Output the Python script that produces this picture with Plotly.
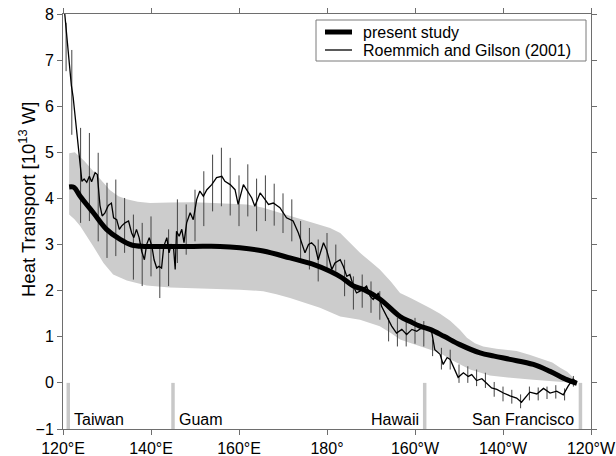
import plotly.graph_objects as go

# ---------------- data ----------------
# Present study (thick line): longitude in degrees east, heat transport [1e13 W]
study_lon = [121.4, 122.5, 123.9, 126.9, 129.9, 133.0, 135.6, 138.5, 142.0, 149.6, 155.7,
             160.2, 165.5, 171.6, 176.9, 180.7, 183.4, 186.0, 188.4, 192.0, 196.6, 198.9,
             201.1, 203.4, 206.6, 210.2, 214.8, 218.0, 221.6, 226.9, 230.7, 234.5, 236.8]
study_val = [4.25, 4.24, 4.05, 3.69, 3.33, 3.11, 2.99, 2.96, 2.96, 2.96, 2.96,
             2.93, 2.86, 2.71, 2.57, 2.42, 2.28, 2.10, 2.02, 1.82, 1.44, 1.33,
             1.23, 1.16, 1.01, 0.83, 0.65, 0.58, 0.51, 0.40, 0.25, 0.07, -0.01]

# Uncertainty band of the present study (upper and lower edges)
band_up_lon = [121.4, 122.7, 124.8, 126.9, 128.8, 130.7, 132.6, 134.5, 137.0, 139.8, 144.3,
               149.6, 154.2, 158.0, 161.8, 165.5, 169.3, 172.5, 175.4, 178.4, 180.7, 183.0,
               185.2, 187.5, 190.0, 192.0, 194.5, 196.6, 199.0, 201.1, 203.5, 205.7, 208.0,
               210.2, 211.8, 213.6, 215.5, 218.5, 221.0, 223.1, 226.0, 229.2, 231.2, 233.0,
               234.6, 236.0, 237.0]
band_up_val = [4.98, 5.00, 4.82, 4.60, 4.38, 4.18, 4.05, 3.98, 3.93, 3.90, 3.91,
               3.92, 3.90, 3.89, 3.87, 3.80, 3.69, 3.60, 3.51, 3.43, 3.36, 3.25,
               3.05, 2.82, 2.62, 2.46, 2.20, 1.95, 1.84, 1.74, 1.62, 1.50, 1.35,
               1.15, 0.98, 0.86, 0.79, 0.74, 0.72, 0.69, 0.61, 0.51, 0.44, 0.33,
               0.24, 0.11, -0.01]
band_lo_lon = [121.4, 122.6, 123.9, 125.4, 126.9, 129.2, 131.4, 134.5, 139.0, 144.3, 148.9,
               154.2, 160.2, 165.5, 168.5, 171.6, 175.0, 178.4, 183.0, 187.5, 192.0, 194.5,
               196.6, 201.1, 205.7, 208.0, 210.5, 212.5, 217.0, 219.3, 223.0, 226.9, 233.0,
               236.4, 237.0]
band_lo_val = [3.65, 3.55, 3.40, 3.18, 2.96, 2.60, 2.35, 2.22, 2.11, 2.07, 2.05,
               2.04, 2.02, 1.99, 1.92, 1.84, 1.74, 1.63, 1.44, 1.37, 1.23, 1.08,
               0.94, 0.79, 0.65, 0.51, 0.39, 0.29, 0.16, 0.14, 0.10, 0.07, 0.03,
               0.00, -0.01]

# Roemmich and Gilson (2001) (thin line)
rg_lon = [120.4, 120.8, 121.1, 121.5, 121.9, 122.3, 122.7, 123.1, 123.5, 123.9, 124.3,
          124.8, 125.4, 126.0, 126.5, 127.3, 127.8, 128.4, 128.9, 129.5, 130.3, 131.0,
          131.5, 132.2, 132.8, 133.3, 134.1, 134.9, 135.6, 136.1, 136.7, 137.3, 137.9,
          138.5, 139.0, 139.6, 140.2, 140.7, 141.3, 141.8, 142.4, 142.9, 143.6, 144.1,
          144.6, 145.1, 145.5, 145.8, 146.4, 147.0, 147.5, 148.1, 148.9, 149.6, 150.4,
          151.1, 151.9, 152.7, 153.8, 154.9, 156.1, 156.8, 158.0, 159.1, 159.8, 161.0,
          162.1, 162.9, 163.6, 164.8, 165.9, 166.7, 167.8, 169.3, 170.8, 172.3, 173.5,
          174.2, 175.0, 175.8, 176.5, 177.3, 178.0, 179.2, 179.9, 180.3, 181.1, 181.8,
          183.0, 183.7, 184.5, 185.2, 186.0, 186.7, 187.5, 189.0, 189.8, 190.5, 191.7,
          192.4, 193.6, 194.7, 195.8, 197.0, 198.1, 199.3, 200.4, 201.5, 202.7, 203.8,
          204.5, 205.7, 206.4, 207.3, 208.0, 209.1, 209.8, 211.0, 212.1, 212.9, 214.0,
          215.2, 216.3, 217.4, 218.6, 220.1, 221.6, 223.1, 224.2, 225.2, 226.1, 227.7,
          229.2, 230.7, 232.2, 233.7, 234.8, 235.9, 236.7]
rg_val = [8.00, 7.60, 7.20, 6.85, 6.45, 6.20, 5.85, 5.45, 5.00, 4.75, 4.37,
          4.42, 4.35, 4.48, 4.36, 4.56, 4.52, 3.85, 3.62, 3.68, 3.85, 3.90,
          3.58, 3.54, 3.33, 3.40, 3.47, 3.51, 3.25, 3.15, 3.33, 3.15, 2.85,
          2.67, 3.00, 3.15, 2.96, 2.67, 2.49, 2.53, 2.49, 2.96, 3.15, 2.82,
          3.00, 2.96, 2.46, 3.29, 3.18, 3.33, 3.04, 3.47, 3.69, 3.54, 3.98,
          4.16, 4.05, 4.19, 4.30, 4.45, 4.48, 4.37, 4.30, 4.19, 3.87, 4.30,
          4.12, 4.01, 3.83, 4.12, 3.98, 3.87, 3.90, 3.80, 3.58, 3.51, 3.25,
          3.04, 2.82, 3.00, 3.04, 2.96, 2.67, 3.04, 2.89, 2.75, 2.46, 2.60,
          2.67, 2.53, 2.31, 2.35, 2.10, 1.95, 1.99, 2.10, 1.88, 1.81, 1.95,
          1.66, 1.44, 1.23, 1.08, 1.16, 1.05, 1.16, 1.12, 1.19, 1.19, 1.10,
          0.72, 0.62, 0.40, 0.55, 0.51, 0.29, 0.12, 0.22, 0.14, 0.18, 0.05,
          0.09, 0.00, -0.11, -0.14, -0.22, -0.28, -0.33, -0.42, -0.30, -0.20, -0.24,
          -0.12, -0.22, -0.18, -0.26, -0.07, 0.08, 0.03]

# Error bars of Roemmich and Gilson (2001)
err_lon = [120.7, 122, 124, 126, 128, 130, 132, 134, 136, 138, 140, 142, 144, 146, 148,
           150, 152, 154, 156, 158, 160, 162, 164, 166, 168, 170, 172, 174, 176, 178,
           180, 182, 184, 186, 188, 190, 192, 194, 196, 198, 200, 202, 204, 206, 208,
           210, 212, 214, 216, 218, 220, 222, 224, 226, 228, 230, 232, 234, 236]
err_lo = [6.76, 5.38, 3.47, 3.51, 3.07, 2.71, 2.75, 2.82, 2.24, 2.10, 2.31, 1.84, 2.10, 2.60, 2.78,
          3.07, 3.40, 3.72, 3.83, 3.63, 3.40, 3.61, 3.29, 3.51, 3.41, 3.25, 3.07, 2.67, 2.46, 2.20,
          2.46, 2.42, 1.88, 1.59, 1.63, 1.52, 1.37, 0.90, 0.79, 0.79, 0.85, 0.79, 0.58, 0.29, 0.29,
          0.00, 0.00, -0.07, -0.11, -0.30, -0.40, -0.45, -0.55, -0.38, -0.38, -0.35, -0.34, -0.38, -0.08]
err_hi = [7.81, 7.22, 5.53, 5.42, 4.99, 4.34, 4.41, 4.01, 3.65, 3.47, 3.61, 2.96, 3.33, 3.98, 3.87,
          4.19, 4.59, 4.95, 5.10, 4.88, 4.50, 4.74, 4.43, 4.50, 4.32, 4.11, 3.98, 3.51, 3.36, 3.11,
          3.25, 3.00, 2.67, 2.31, 2.35, 2.20, 1.99, 1.41, 1.41, 1.37, 1.41, 1.34, 0.94, 0.76, 0.72,
          0.40, 0.36, 0.29, 0.22, 0.02, -0.08, -0.15, -0.25, -0.08, -0.10, -0.08, -0.05, -0.12, 0.15]

# Station markers
place_names = ["Taiwan", "Guam", "Hawaii", "San Francisco"]
place_lon = [121.2, 145.0, 202.2, 237.6]
place_anchor = ["left", "left", "right", "right"]

x_tickvals = [120, 140, 160, 180, 200, 220, 240]
x_ticktext = ["120°E", "140°E", "160°E", "180°", "160°W", "140°W", "120°W"]
y_tickvals = [-1, 0, 1, 2, 3, 4, 5, 6, 7, 8]
y_title = "Heat Transport [10<sup>13</sup> W]"

legend_labels = ["present study", "Roemmich and Gilson (2001)"]
legend_widths = [5, 1.3]

# ---------------- figure ----------------
FONT = "Liberation Sans, Arial, Helvetica, sans-serif"
W, H = 616, 456
ML, MR, MT, MB = 63, 25, 14, 27
PW, PH = W - ML - MR, H - MT - MB


def px_to_paper(xp, yp):
    return (xp - ML) / PW, 1 - (yp - MT) / PH


fig = go.Figure()

# uncertainty band
fig.add_trace(go.Scatter(
    x=band_up_lon + band_lo_lon[::-1], y=band_up_val + band_lo_val[::-1],
    fill="toself", fillcolor="#cccccc", line=dict(width=0), mode="lines",
    showlegend=False, hoverinfo="skip"))

# station marker bars (from y=-1 to y=0)
bx, by = [], []
for lon in place_lon:
    bx += [lon, lon, None]
    by += [-1, 0, None]
fig.add_trace(go.Scatter(x=bx, y=by, mode="lines", line=dict(color="#c8c8c8", width=3.5),
                         showlegend=False, hoverinfo="skip"))

# error bars
ex, ey = [], []
for lon, lo, hi in zip(err_lon, err_lo, err_hi):
    ex += [lon, lon, None]
    ey += [lo, hi, None]
fig.add_trace(go.Scatter(x=ex, y=ey, mode="lines", line=dict(color="#444444", width=1),
                         showlegend=False, hoverinfo="skip"))

# Roemmich and Gilson
fig.add_trace(go.Scatter(x=rg_lon, y=rg_val, mode="lines", name=legend_labels[1],
                         line=dict(color="black", width=legend_widths[1]), showlegend=False))
# present study
fig.add_trace(go.Scatter(x=study_lon, y=study_val, mode="lines", name=legend_labels[0],
                         line=dict(color="black", width=legend_widths[0], shape="spline"),
                         showlegend=False))

for name, lon, anc in zip(place_names, place_lon, place_anchor):
    fig.add_annotation(x=lon, y=-0.8, text=name, showarrow=False, xanchor=anc,
                       xshift=4 if anc == "left" else -4, yanchor="middle",
                       font=dict(size=16, color="black", family=FONT))

# legend box (drawn in paper coordinates)
x0, y0 = px_to_paper(316, 20)
x1, y1 = px_to_paper(586, 61)
fig.add_shape(type="rect", xref="paper", yref="paper", x0=x0, x1=x1, y0=y1, y1=y0,
              line=dict(color="#7a7a7a", width=1), fillcolor="white", layer="above")
for i, (lab, lw) in enumerate(zip(legend_labels, legend_widths)):
    yp = 32 + 18 * i
    lx0, ly = px_to_paper(325, yp)
    lx1, _ = px_to_paper(352, yp)
    tx, _ = px_to_paper(361, yp)
    fig.add_shape(type="line", xref="paper", yref="paper", x0=lx0, x1=lx1, y0=ly, y1=ly,
                  line=dict(color="black", width=lw), layer="above")
    fig.add_annotation(xref="paper", yref="paper", x=tx, y=ly, text=lab, showarrow=False,
                       xanchor="left", yanchor="middle",
                       font=dict(size=16, color="black", family=FONT))

# y-axis title as rotated annotation (exact placement)
tx, ty = px_to_paper(27, 200)
fig.add_annotation(xref="paper", yref="paper", x=tx, y=ty, text=y_title, textangle=-90,
                   showarrow=False, xanchor="center", yanchor="middle",
                   font=dict(size=18.5, color="black", family=FONT))

axis_common = dict(showline=True, linecolor="#6e6e6e", linewidth=1, mirror="ticks",
                   ticks="outside", ticklen=5, tickcolor="#6e6e6e", showgrid=False,
                   zeroline=False, automargin=False,
                   tickfont=dict(size=16, color="black", family=FONT))

fig.update_xaxes(range=[120, 240], tickvals=x_tickvals, ticktext=x_ticktext, **axis_common)
fig.update_yaxes(range=[-1, 8], tickvals=y_tickvals, **axis_common)

fig.update_layout(
    width=W, height=H,
    margin=dict(l=ML, r=MR, t=MT, b=MB),
    plot_bgcolor="white", paper_bgcolor="white",
    font=dict(family=FONT, size=16, color="black"),
    showlegend=False,
)

fig.write_html("out.html")
